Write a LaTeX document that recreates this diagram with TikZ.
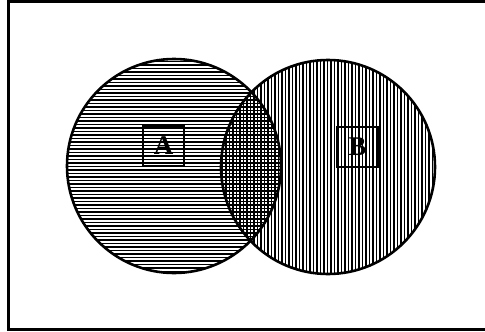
\documentclass[tikz,border=0pt]{standalone}
\usepackage{fontspec}
\setmainfont{Liberation Serif}
\tikzset{
  frameline/.style={line width=2.4pt},
  circleline/.style={line width=2.6pt},
  hatch/.style={line width=1.1pt},
  labelbox/.style={draw, line width=2.4pt, minimum width=41pt, minimum height=40pt, inner sep=0pt, font=\bfseries\fontsize{27}{27}\selectfont},
}
\begin{document}
\begin{tikzpicture}[x=1pt,y=-1pt]
\useasboundingbox (0,0) rectangle (485,332);
\coordinate (ca) at (174,166);
\coordinate (cb) at (328,167);
% hatching of A
\begin{scope}
  \clip (ca) circle (107);
  \foreach \y in {58,61.5,...,276} \draw[hatch] (60,\y) -- (290,\y);
\end{scope}
% hatching of B
\begin{scope}
  \clip (cb) circle (107);
  \foreach \x in {219,222.5,...,438} \draw[hatch] (\x,55) -- (\x,278);
\end{scope}
% lens: both
\begin{scope}
  \clip (ca) circle (107);
  \clip (cb) circle (107);
  \foreach \y in {58,61.5,...,276} \draw[hatch] (210,\y) -- (290,\y);
\end{scope}
% outlines
\draw[circleline] (ca) circle (107);
\draw[circleline] (cb) circle (107);
% frame (right edge lies at the picture's edge)
\draw[frameline] (490,1.5) -- (8.5,1.5) -- (8.5,329.5) -- (490,329.5);
% labels
\node[labelbox] (la) at (163.5,146) {A};
\node[labelbox] (lb) at (357.5,147) {B};
\end{tikzpicture}
\end{document}
